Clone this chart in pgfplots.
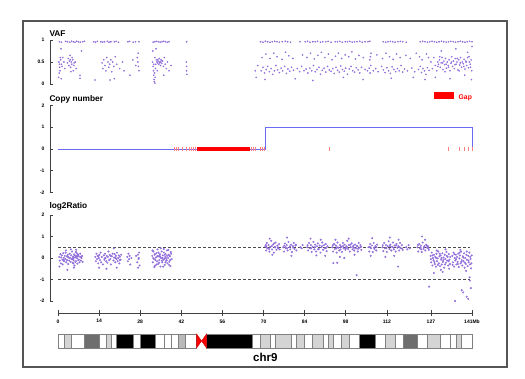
\documentclass[border=0pt]{standalone}
\usepackage{fontspec}
\setmainfont{Liberation Sans}
\usepackage{pgfplots}
\pgfplotsset{compat=1.18}
\usepackage{pgfplotstable}
\definecolor{pts}{RGB}{147,112,219}
\definecolor{cnline}{RGB}{105,105,250}
\definecolor{lg}{RGB}{212,212,212}
\definecolor{mg}{RGB}{185,185,185}
\definecolor{dg}{RGB}{110,110,110}
\definecolor{framec}{RGB}{85,85,85}

\pgfplotstableread[row sep=\\]{x y\\
0.5 .96\\ 1.2 .95\\ 2.6 .97\\ 3.2 .96\\ 4.0 .95\\ 4.6 .97\\ 5.2 .96\\ 5.8 .95\\ 6.4 .97\\ 7.0 .96\\ 7.6 .95\\ 8.4 .96\\ 9.0 .97\\
12.2 .96\\ 12.8 .95\\ 13.4 .97\\ 14.6 .96\\ 15.2 .95\\ 15.8 .96\\ 16.8 .97\\ 17.4 .95\\ 18.0 .96\\ 19.2 .96\\ 19.8 .97\\ 20.6 .95\\
23.8 .96\\ 24.4 .97\\ 25.6 .95\\ 26.4 .96\\ 27.6 .96\\ 32.4 .95\\ 33.0 .96\\ 33.6 .97\\ 34.2 .96\\ 34.8 .95\\ 35.4 .96\\ 36.0 .97\\ 36.6 .96\\ 37.2 .95\\ 37.8 .96\\ 43.8 .96\\
0.5 0.45\\ 0.7 0.3\\ 0.9 0.55\\ 1.1 0.12\\ 1.4 0.4\\ 1.6 0.6\\ 2.0 0.5\\ 2.3 0.35\\ 3.2 0.48\\ 3.5 0.58\\ 3.7 0.42\\ 3.9 0.52\\ 4.1 0.65\\ 4.3 0.38\\ 4.5 0.5\\ 4.7 0.45\\ 5.0 0.55\\ 5.2 0.3\\ 5.5 0.48\\ 7.5 0.2\\ 8.0 0.75\\ 1.0 0.8\\
4.2 0.55\\ 4.8 0.6\\ 5.4 0.42\\ 5.9 0.5\\ 6.2 0.35\\ 4.4 0.28\\ 0.3 0.5\\ 0.6 0.38\\ 0.8 0.6\\ 1.2 0.45\\ 0.4 0.25\\ 0.2 0.15\\ 7.5 0.13\\
12.6 0.09\\ 15.0 0.48\\ 15.3 0.35\\ 15.6 0.55\\ 16.0 0.42\\ 16.3 0.3\\ 16.6 0.6\\ 17.0 0.5\\ 17.3 0.38\\ 17.6 0.45\\ 18.0 0.55\\ 18.3 0.28\\ 18.6 0.5\\ 19.0 0.4\\ 19.5 0.62\\ 20.0 0.45\\ 21.0 0.35\\ 22.0 0.5\\ 22.5 0.3\\ 24.5 0.2\\ 25.5 0.55\\ 26.5 0.42\\ 27.0 0.6\\ 27.2 0.5\\ 27.4 0.4\\ 27.6 0.3\\ 27.3 0.7\\ 19.2 0.12\\ 17.7 0.09\\
32.2 0.5\\ 32.4 0.4\\ 32.5 0.3\\ 32.6 0.2\\ 32.7 0.1\\ 32.8 0.05\\ 32.9 0.25\\ 33.0 0.6\\ 33.1 0.15\\ 33.2 0.35\\ 33.3 0.45\\ 33.5 0.55\\ 33.7 0.5\\ 33.9 0.48\\ 34.1 0.52\\ 34.3 0.45\\ 34.5 0.58\\ 34.7 0.5\\ 34.9 0.42\\ 35.1 0.55\\ 35.3 0.47\\ 35.6 0.52\\ 35.9 0.4\\ 36.2 0.6\\ 36.5 0.45\\ 36.9 0.35\\ 37.3 0.5\\ 37.8 0.3\\ 38.5 0.42\\ 32.3 0.75\\ 33.4 0.8\\ 34.0 0.55\\ 34.6 0.48\\ 35.0 0.5\\ 35.4 0.53\\ 32.6 0.45\\ 33.0 0.02\\ 33.8 0.3\\ 36.0 0.2\\
43.7 0.5\\ 43.8 0.4\\ 43.8 0.3\\ 43.9 0.22\\ 67.2 0.3\\ 67.5 0.15\\ 68.0 0.42\\
69.0 .96\\ 69.8 .95\\ 70.6 .97\\ 71.4 .96\\ 72.2 .95\\ 73.0 .96\\ 73.8 .97\\ 74.6 .96\\ 75.4 .95\\ 76.4 .96\\ 77.4 .97\\ 78.2 .96\\ 79.2 .95\\ 82.4 .96\\ 84.2 .96\\ 85.0 .97\\ 85.8 .95\\ 86.8 .96\\ 87.6 .96\\ 88.4 .97\\ 89.4 .95\\ 90.2 .96\\ 91.2 .96\\ 92.0 .97\\ 93.0 .95\\
94.4 .96\\ 95.2 .96\\ 96.0 .97\\ 96.8 .95\\ 97.8 .96\\ 98.6 .96\\ 99.4 .97\\ 100.2 .95\\ 101.0 .96\\ 101.8 .96\\ 102.8 .97\\ 103.6 .95\\ 104.6 .96\\ 105.6 .96\\ 106.2 .97\\
110.8 .96\\ 111.6 .95\\ 112.4 .96\\ 113.2 .97\\ 114.0 .96\\ 114.8 .95\\ 115.8 .96\\ 116.6 .97\\ 117.4 .96\\ 118.6 .95\\
123.4 .96\\ 124.2 .97\\ 125.0 .96\\ 125.8 .95\\ 126.6 .96\\ 127.4 .97\\ 128.2 .96\\ 129.0 .95\\ 129.8 .96\\ 130.6 .97\\ 131.4 .96\\ 132.2 .95\\ 133.0 .96\\ 133.8 .97\\ 134.6 .96\\ 135.4 .95\\ 136.2 .96\\ 137.0 .97\\ 137.8 .96\\ 138.6 .95\\ 139.4 .96\\ 140.2 .97\\ 141.0 .96\\
69.2 0.3\\ 69.8 0.38\\ 70.3 0.25\\ 70.9 0.33\\ 71.4 0.4\\ 72.0 0.28\\ 72.6 0.35\\ 73.1 0.22\\ 73.7 0.3\\ 74.2 0.42\\ 74.8 0.32\\ 75.4 0.26\\ 76.0 0.36\\ 76.5 0.3\\ 77.2 0.4\\ 77.8 0.24\\ 78.3 0.34\\ 78.9 0.29\\ 79.5 0.38\\ 80.2 0.31\\ 81.5 0.35\\ 82.3 0.28\\ 83.0 0.4\\ 83.8 0.3\\ 84.5 0.34\\ 85.1 0.25\\ 85.8 0.36\\ 86.4 0.3\\ 87.0 0.42\\ 87.6 0.28\\ 88.2 0.33\\ 88.9 0.38\\ 89.4 0.22\\ 90.0 0.31\\ 90.6 0.36\\ 91.2 0.27\\ 91.8 0.4\\ 92.4 0.32\\ 93.0 0.29\\ 93.6 0.35\\ 94.1 0.24\\ 94.7 0.38\\ 95.2 0.31\\ 95.8 0.27\\ 96.3 0.41\\ 96.9 0.33\\ 97.5 0.29\\ 98.0 0.36\\ 98.6 0.22\\ 99.2 0.34\\ 99.8 0.4\\ 100.4 0.3\\ 101.0 0.27\\ 101.6 0.37\\ 102.2 0.32\\ 102.8 0.25\\ 103.4 0.38\\ 104.6 0.33\\ 105.4 0.3\\ 106.0 0.36\\ 106.3 0.25\\ 106.5 0.42\\ 107.4 0.3\\ 108.2 0.35\\ 109.0 0.28\\ 110.2 0.4\\ 110.8 0.32\\ 111.4 0.26\\ 112.0 0.37\\ 112.6 0.3\\ 113.2 0.24\\ 113.8 0.39\\ 114.4 0.33\\ 115.0 0.28\\ 115.6 0.35\\ 116.2 0.3\\ 116.8 0.42\\ 117.4 0.27\\ 118.0 0.34\\ 119.0 0.3\\ 120.5 0.36\\ 121.5 0.28\\ 122.8 0.33\\ 123.4 0.4\\ 123.8 0.26\\ 124.3 0.35\\ 124.8 0.3\\ 125.3 0.22\\ 125.8 0.37\\ 126.4 0.31\\
70.5 0.1\\ 80.8 0.12\\ 86.8 0.08\\ 97.2 0.15\\ 103.9 0.1\\ 113.5 0.13\\ 125.0 0.1\\ 121.0 0.15\\
69.5 0.6\\ 70.8 0.68\\ 72.2 0.58\\ 73.5 0.7\\ 74.6 0.62\\ 76.3 0.56\\ 77.5 0.72\\ 78.6 0.64\\ 80.0 0.58\\ 83.3 0.66\\ 84.8 0.6\\ 86.0 0.7\\ 87.3 0.57\\ 88.5 0.65\\ 89.7 0.72\\ 90.9 0.6\\ 92.1 0.68\\ 93.3 0.55\\ 94.5 0.63\\ 95.5 0.7\\ 96.6 0.58\\ 97.8 0.66\\ 99.0 0.62\\ 100.1 0.73\\ 101.3 0.57\\ 102.5 0.65\\ 104.0 0.6\\ 106.2 0.55\\ 106.4 0.62\\ 106.6 0.7\\ 108.6 0.66\\ 110.5 0.58\\ 111.7 0.7\\ 112.9 0.62\\ 114.1 0.56\\ 115.3 0.68\\ 116.5 0.6\\ 118.5 0.65\\ 120.0 0.58\\ 122.0 0.7\\ 123.1 0.62\\ 124.0 0.55\\ 125.5 0.68\\ 126.2 0.6\\
127.0 0.5\\ 127.5 0.35\\ 128.0 0.6\\ 128.5 0.42\\ 129.0 0.3\\ 129.3 0.5\\ 129.6 0.45\\ 129.9 0.55\\ 130.2 0.38\\ 130.5 0.48\\ 130.8 0.6\\ 131.1 0.33\\ 131.4 0.52\\ 131.7 0.44\\ 132.0 0.58\\ 132.3 0.36\\ 132.6 0.5\\ 132.9 0.42\\ 133.2 0.55\\ 133.5 0.3\\ 133.8 0.47\\ 134.1 0.62\\ 134.4 0.4\\ 134.7 0.52\\ 135.0 0.35\\ 135.3 0.58\\ 135.6 0.45\\ 135.9 0.5\\ 136.2 0.32\\ 136.5 0.55\\ 136.8 0.43\\ 137.1 0.6\\ 137.4 0.38\\ 137.7 0.5\\ 138.0 0.46\\ 138.3 0.56\\ 138.6 0.34\\ 138.9 0.52\\ 139.2 0.42\\ 139.5 0.6\\ 139.8 0.37\\ 140.1 0.5\\ 140.4 0.45\\ 140.7 0.55\\ 140.9 0.3\\
129.4 0.4\\ 130.0 0.62\\ 131.0 0.48\\ 132.2 0.45\\ 133.0 0.38\\ 134.0 0.5\\ 135.2 0.44\\ 136.0 0.58\\ 137.0 0.48\\ 138.2 0.4\\ 139.0 0.5\\ 140.0 0.62\\ 140.5 0.38\\ 131.8 0.28\\ 136.6 0.3\\ 130.5 0.75\\ 135.5 0.8\\ 139.5 0.72\\ 128.5 0.15\\ 133.5 0.12\\ 138.5 0.2\\ 141.0 0.85\\ 140.8 0.1\\
}\vafdata

\pgfplotstableread[row sep=\\]{x y\\
0.4 0.05\\ 0.6 -0.12\\ 0.8 0.18\\ 1.0 -0.25\\ 1.1 0.02\\ 1.3 0.12\\ 1.5 -0.08\\ 1.6 -0.3\\ 1.8 0.22\\ 2.0 0.0\\ 2.1 -0.15\\ 2.3 0.1\\ 2.5 -0.05\\ 2.6 0.25\\ 2.8 -0.2\\ 3.0 0.08\\ 3.1 -0.1\\ 3.3 0.15\\ 3.5 -0.28\\ 3.6 0.03\\ 3.8 -0.12\\ 4.0 0.2\\ 4.1 0.0\\ 4.3 -0.18\\ 4.5 0.12\\ 4.6 -0.05\\ 4.8 0.3\\ 5.0 -0.22\\ 5.1 0.06\\ 5.3 -0.1\\ 5.5 0.17\\ 5.6 -0.35\\ 5.8 0.02\\ 6.0 0.1\\ 6.1 -0.15\\ 6.3 0.24\\ 6.5 -0.02\\ 6.6 -0.26\\ 6.8 0.08\\ 7.0 0.14\\ 7.1 -0.08\\ 7.3 -0.2\\ 7.5 0.05\\ 7.6 0.2\\ 7.8 -0.12\\ 8.0 0.0\\ 8.2 0.1\\ 8.4 -0.18\\ 0.5 -0.4\\ 3.2 -0.55\\ 5.4 -0.45\\ 4.4 0.4\\ 6.2 0.38\\ 2.7 0.35\\ 5.2 0.0\\ 5.7 0.12\\ 5.9 -0.18\\ 6.4 0.05\\ 6.7 0.18\\ 6.9 -0.1\\ 5.25 -0.25\\ 6.05 0.28\\
1.9 -0.1\\ 3.4 0.05\\ 4.9 -0.05\\ 6.5 0.1\\ 7.9 0.05\\
12.7 0.05\\ 12.9 -0.15\\ 13.1 0.2\\ 13.3 -0.05\\ 13.5 0.1\\ 13.7 -0.25\\ 13.9 0.0\\ 14.1 0.15\\ 14.3 -0.1\\ 14.5 0.25\\ 14.7 -0.2\\ 14.9 0.05\\ 15.3 -0.3\\ 15.6 0.12\\ 15.8 -0.08\\ 16.0 0.2\\ 16.2 0.0\\ 16.4 -0.15\\ 16.6 0.1\\ 16.8 -0.22\\ 17.0 0.05\\ 17.2 0.3\\ 17.4 -0.1\\ 17.6 0.15\\ 17.8 -0.05\\ 18.0 -0.3\\ 18.3 0.08\\ 18.6 0.2\\ 18.9 -0.12\\ 19.1 0.02\\ 19.3 0.18\\ 19.5 -0.2\\ 19.7 0.1\\ 19.9 -0.05\\ 20.1 0.25\\ 20.3 -0.15\\ 20.5 0.0\\ 20.7 0.12\\ 20.9 -0.25\\ 21.1 0.06\\ 21.3 -0.08\\ 21.5 0.15\\ 16.5 -0.5\\ 19.0 0.45\\ 14.0 -0.45\\ 20.0 -0.45\\
13.8 0.1\\ 15.9 -0.02\\ 17.9 0.1\\ 19.6 0.0\\ 21.0 -0.1\\
23.6 0.05\\ 23.8 -0.15\\ 24.0 0.2\\ 24.2 -0.05\\ 24.4 0.1\\ 24.6 -0.3\\ 25.0 0.0\\ 26.6 0.1\\ 27.0 -0.2\\ 27.2 0.15\\ 27.4 -0.05\\ 27.6 0.25\\ 27.8 -0.35\\ 27.3 -0.45\\ 27.5 0.0\\
32.1 0.1\\ 32.3 -0.2\\ 32.5 0.3\\ 32.7 -0.05\\ 32.9 0.15\\ 33.1 -0.35\\ 33.3 0.02\\ 33.5 0.22\\ 33.7 -0.15\\ 33.9 0.4\\ 34.1 -0.28\\ 34.3 0.08\\ 34.5 -0.1\\ 34.7 0.18\\ 34.9 -0.4\\ 35.1 0.0\\ 35.3 0.3\\ 35.5 -0.2\\ 35.7 0.12\\ 35.9 -0.08\\ 36.1 0.25\\ 36.3 -0.32\\ 36.5 0.05\\ 36.7 0.18\\ 36.9 -0.12\\ 37.1 0.35\\ 37.3 -0.25\\ 37.5 0.0\\ 37.7 0.15\\ 37.9 -0.18\\ 38.1 0.08\\ 38.3 -0.38\\ 38.5 0.2\\ 38.7 -0.05\\ 32.4 0.0\\ 33.0 0.18\\ 33.6 -0.3\\ 34.2 0.25\\ 34.8 0.05\\ 35.4 -0.12\\ 36.0 0.42\\ 36.6 -0.2\\ 37.2 0.1\\ 37.8 -0.32\\ 38.4 0.28\\ 32.8 -0.42\\ 35.0 0.45\\ 36.4 0.15\\ 37.6 0.38\\ 33.8 0.08\\ 35.8 -0.4\\ 34.4 -0.22\\ 32.2 0.35\\ 38.2 -0.1\\ 36.8 0.0\\
33.2 -0.1\\ 34.6 0.1\\ 35.6 0.0\\ 36.2 -0.05\\ 37.0 -0.1\\ 38.0 0.1\\
70.6 0.55\\ 70.9 0.35\\ 71.1 0.7\\ 71.4 0.45\\ 71.7 0.6\\ 72.0 0.3\\ 72.3 0.52\\ 72.6 0.8\\ 72.9 0.4\\ 73.2 0.62\\ 73.5 0.25\\ 73.8 0.5\\ 74.1 0.72\\ 74.4 0.38\\ 74.7 0.58\\ 75.0 0.45\\ 75.3 0.65\\ 72.1 0.9\\ 73.0 0.15\\ 71.0 0.5\\ 74.0 0.5\\
70.8 0.6\\ 71.9 0.42\\ 72.8 0.55\\ 73.6 0.68\\ 74.9 0.5\\ 75.5 0.4\\
76.7 0.5\\ 77.0 0.3\\ 77.3 0.68\\ 77.6 0.45\\ 77.9 0.6\\ 78.2 0.35\\ 78.5 0.75\\ 78.8 0.5\\ 79.1 0.4\\ 79.4 0.62\\ 79.7 0.28\\ 80.0 0.55\\ 80.3 0.7\\ 80.6 0.42\\ 80.9 0.58\\ 81.2 0.35\\ 78.0 0.95\\ 79.5 0.1\\ 77.5 0.5\\ 82.6 0.5\\ 83.0 0.45\\ 83.3 0.6\\
77.1 0.58\\ 78.0 0.45\\ 79.0 0.55\\ 80.1 0.48\\ 81.0 0.62\\
84.9 0.5\\ 85.2 0.35\\ 85.5 0.7\\ 85.8 0.45\\ 86.1 0.6\\ 86.4 0.28\\ 86.7 0.52\\ 87.0 0.75\\ 87.3 0.4\\ 87.6 0.62\\ 87.9 0.3\\ 88.2 0.55\\ 88.5 0.68\\ 88.8 0.42\\ 89.1 0.58\\ 89.4 0.25\\ 89.7 0.5\\ 90.0 0.72\\ 90.3 0.38\\ 90.6 0.6\\ 90.9 0.45\\ 91.2 0.65\\ 91.5 0.32\\ 91.8 0.55\\ 86.0 0.9\\ 88.0 0.12\\ 89.5 0.85\\ 91.0 0.1\\
85.0 0.6\\ 86.2 0.45\\ 87.5 0.5\\ 88.6 0.4\\ 89.9 0.55\\ 91.4 0.48\\
93.4 0.5\\ 93.7 0.3\\ 94.0 0.65\\ 94.3 0.42\\ 94.6 0.58\\ 94.9 0.25\\ 95.2 0.72\\ 95.5 0.48\\ 95.8 0.35\\ 96.1 0.6\\ 96.4 0.52\\ 96.7 0.28\\ 97.0 0.7\\ 97.3 0.45\\ 97.6 0.62\\ 97.9 0.38\\ 98.2 0.55\\ 98.5 0.8\\ 98.8 0.42\\ 99.1 0.6\\ 99.4 0.3\\ 99.7 0.5\\ 100.0 0.68\\ 100.3 0.4\\ 100.6 0.58\\ 100.9 0.35\\ 101.2 0.62\\ 101.5 0.45\\ 101.8 0.55\\ 102.1 0.3\\ 102.4 0.7\\ 102.7 0.48\\ 103.0 0.6\\ 103.3 0.38\\ 94.5 0.85\\ 96.0 0.05\\ 97.5 0.0\\ 99.0 0.9\\ 101.0 0.15\\ 93.8 -0.24\\ 96.6 0.52\\ 98.0 0.45\\ 100.5 0.52\\ 102.0 0.55\\ 95.0 0.5\\ 101.7 -0.8\\ 95.1 -0.22\\
93.6 0.6\\ 94.8 0.45\\ 96.2 0.4\\ 97.1 0.56\\ 98.4 0.5\\ 99.6 0.62\\ 100.8 0.47\\ 102.2 0.42\\ 103.2 0.52\\
105.7 0.5\\ 106.0 0.3\\ 106.3 0.65\\ 106.6 0.45\\ 106.9 0.58\\ 107.2 0.28\\ 107.5 0.7\\ 107.8 0.42\\ 108.1 0.55\\ 108.4 0.35\\ 108.7 0.62\\ 107.0 0.92\\ 106.5 0.1\\ 106.1 0.52\\ 107.6 0.48\\ 108.5 0.5\\
110.5 0.5\\ 110.8 0.32\\ 111.1 0.7\\ 111.4 0.45\\ 111.7 0.6\\ 112.0 0.28\\ 112.3 0.55\\ 112.6 0.78\\ 112.9 0.42\\ 113.2 0.62\\ 113.5 0.35\\ 113.8 0.52\\ 114.1 0.72\\ 114.4 0.4\\ 114.7 0.58\\ 115.0 0.3\\ 115.3 0.65\\ 115.6 0.48\\ 115.9 0.55\\ 116.2 0.35\\ 116.5 0.7\\ 116.8 0.45\\ 117.1 0.6\\ 117.4 0.38\\ 113.0 0.95\\ 114.5 0.1\\ 115.8 -0.4\\ 111.5 0.05\\ 116.0 0.85\\ 118.6 0.5\\ 119.0 0.4\\ 119.4 0.6\\ 119.8 0.45\\
110.6 0.6\\ 111.9 0.46\\ 113.0 0.55\\ 114.2 0.48\\ 115.1 0.58\\ 116.4 0.5\\ 117.2 0.44\\
122.4 0.5\\ 122.7 0.3\\ 123.0 0.65\\ 123.3 0.45\\ 123.6 0.58\\ 123.9 0.28\\ 124.2 0.72\\ 124.5 0.42\\ 124.8 0.55\\ 125.1 0.35\\ 125.4 0.62\\ 125.7 0.48\\ 126.0 0.55\\ 126.3 0.38\\ 124.0 1.0\\ 125.0 0.85\\ 123.5 0.5\\ 126.4 -1.33\\
122.6 0.6\\ 123.7 0.4\\ 124.6 0.5\\ 125.6 0.58\\ 126.1 0.45\\
126.9 0.1\\ 127.1 -0.2\\ 127.3 0.25\\ 127.5 -0.35\\ 127.7 0.0\\ 127.9 -0.1\\ 128.1 0.15\\ 128.3 -0.28\\ 128.5 0.05\\ 128.7 -0.4\\ 128.9 0.2\\ 129.1 -0.15\\ 129.3 -0.02\\ 129.5 0.3\\ 129.7 -0.25\\ 129.9 0.08\\ 130.1 -0.38\\ 130.3 0.12\\ 130.5 -0.08\\ 130.7 -0.3\\ 130.9 0.22\\ 131.1 -0.18\\ 131.3 0.02\\ 131.5 -0.45\\ 131.7 0.15\\ 131.9 -0.05\\ 132.1 -0.22\\ 132.3 0.28\\ 132.5 -0.12\\ 132.7 0.05\\ 132.9 -0.35\\ 133.1 0.18\\ 133.3 -0.08\\ 133.5 -0.28\\ 134.3 0.1\\ 134.5 -0.2\\ 134.7 0.25\\ 134.9 -0.4\\ 135.1 0.0\\ 135.3 -0.12\\ 135.5 0.15\\ 135.7 -0.3\\ 135.9 0.05\\ 136.1 -0.18\\ 136.3 0.2\\ 136.5 -0.42\\ 136.7 -0.02\\ 136.9 0.12\\ 137.1 -0.25\\ 137.3 0.3\\ 137.5 -0.1\\ 137.7 -0.35\\ 137.9 0.08\\ 138.1 -0.15\\ 138.3 0.22\\ 138.5 -0.45\\ 138.7 0.0\\ 138.9 -0.28\\ 139.1 0.15\\ 139.3 -0.08\\ 139.5 -0.38\\ 139.7 0.1\\ 139.9 -0.2\\ 140.1 0.25\\ 140.3 -0.3\\ 140.5 -0.05\\ 140.7 -0.48\\ 140.9 0.12\\
127.0 -0.05\\ 127.6 0.12\\ 128.2 -0.18\\ 128.8 0.0\\ 129.4 -0.32\\ 130.0 0.2\\ 130.6 0.0\\ 131.2 -0.1\\ 131.8 -0.3\\ 132.4 0.1\\ 133.0 -0.15\\ 133.6 0.05\\ 134.4 -0.32\\ 135.0 0.18\\ 135.6 -0.05\\ 136.2 -0.28\\ 136.8 0.25\\ 137.4 -0.18\\ 138.0 0.02\\ 138.6 -0.22\\ 139.2 0.3\\ 139.8 -0.12\\ 140.4 0.05\\ 140.8 -0.25\\ 129.0 0.35\\ 132.0 0.4\\ 137.0 0.38\\ 130.4 -0.55\\ 133.2 -0.5\\ 139.0 -0.6\\
135.2 -2.0\\ 137.5 -1.5\\ 138.0 -1.6\\ 139.2 -1.8\\ 140.3 -1.05\\ 140.6 -1.4\\ 128.0 -0.7\\ 131.0 -0.65\\ 140.2 -0.9\\ 139.7 -1.9\\
}\logdata

\newcommand{\band}[3]{\addplot[fill=#3, draw=black!50, line width=0.5pt] coordinates {(#1,0) (#2,0) (#2,1) (#1,1)} -- cycle;}

\pgfplotsset{panel/.style={scale only axis, width=422pt, xmin=-2.725, xmax=141,
  axis x line=none, axis y line=left, y axis line style={-, draw=black!75, line width=0.6pt},
  tick align=inside, major tick length=2.5pt, ytick style={draw=black!75, line width=0.6pt},
  yticklabel style={font=\fontsize{5}{5}\selectfont\bfseries, xshift=-2pt},
  clip=false, anchor=south west}}

\begin{document}
\begin{tikzpicture}
\path (0,0) rectangle (525pt,379pt);
\draw[framec, line width=1.2pt] (23pt,358pt) rectangle (507pt,12pt);

% VAF
\begin{axis}[panel, height=44pt, ymin=0, ymax=1, ytick={0,0.5,1}, yticklabels={0,0.5,1}, at={(50pt,295pt)}]
\addplot[only marks, mark=*, mark size=0.62pt, color=pts] table[x=x,y=y]{\vafdata};
\end{axis}

% Copy number
\begin{axis}[panel, height=87pt, ymin=-2, ymax=2, ytick={-2,-1,0,1,2}, yticklabels={-2,-1,0,1,2}, at={(50pt,186.5pt)}]
\addplot[cnline, line width=0.8pt] coordinates {(0,0) (70.8,0) (70.8,1) (141,1) (141,0)};
\addplot[fill=red, draw=none] coordinates {(47.3,-0.11) (65.4,-0.11) (65.4,0.11) (47.3,0.11)} -- cycle;
\addplot[only marks, mark=|, mark size=2.4pt, mark options={line width=0.45pt}, color=red!50] coordinates {(39.7,0) (40.3,0) (41.0,0) (42.3,0) (43.6,0) (44.6,0) (45.3,0) (46.0,0) (46.6,0) (65.8,0) (66.4,0) (67.0,0) (68.9,0) (69.5,0) (70.1,0) (92.3,0) (132.8,0) (136.6,0) (138.3,0) (139.6,0) (141.0,0)};
\end{axis}

% log2Ratio
\begin{axis}[panel, height=86pt, ymin=-2, ymax=2, ytick={-2,-1,0,1,2}, yticklabels={-2,-1,0,1,2}, at={(50pt,78pt)}]
\addplot[only marks, mark=*, mark size=0.8pt, color=pts] table[x=x,y=y]{\logdata};
\addplot[black!70, line width=0.7pt, dash pattern=on 3pt off 2pt] coordinates {(0,0.5) (140.3,0.5)};
\addplot[black!70, line width=0.7pt, dash pattern=on 3pt off 2pt] coordinates {(0,-1) (140.3,-1)};
\end{axis}

% position axis
\begin{axis}[scale only axis, width=414pt, height=10pt, xmin=0, xmax=141, ymin=0, ymax=1,
  axis x line=bottom, axis y line=none, x axis line style={-, draw=black!75, line width=0.6pt},
  xtick={0,14,28,42,56,70,84,98,112,127,141}, xticklabels={0,14,28,42,56,70,84,98,112,127,141Mb},
  tick align=center, major tick length=6pt, xtick style={draw=black!75, line width=0.6pt},
  xticklabel style={font=\fontsize{5}{5}\selectfont\bfseries},
  at={(58pt,66pt)}, anchor=south west]
\addplot[draw=none] coordinates {(0,0.5) (141,0.5)};
\end{axis}

% ideogram
\begin{axis}[scale only axis, width=414pt, height=14pt, xmin=0, xmax=141, ymin=0, ymax=1, hide axis, clip=false, at={(58pt,31pt)}, anchor=south west]
\band{0}{2.0}{white}
\band{2.0}{4.4}{lg}
\band{4.4}{8.9}{white}
\band{8.9}{14.1}{dg}
\band{14.1}{16.3}{white}
\band{16.3}{18.1}{lg}
\band{18.1}{19.8}{white}
\band{19.8}{25.6}{black}
\band{25.6}{27.9}{white}
\band{27.9}{33.0}{black}
\band{33.0}{36.1}{white}
\band{36.1}{38.4}{white}
\band{38.4}{41.0}{white}
\band{41.0}{43.5}{mg}
\band{43.5}{47.2}{white}
\band{50.6}{66.0}{black}
\band{66.0}{68.8}{white}
\band{68.8}{72.2}{lg}
\band{72.2}{73.9}{white}
\band{73.9}{79.3}{lg}
\band{79.3}{81.0}{white}
\band{81.0}{83.9}{lg}
\band{83.9}{86.6}{white}
\band{86.6}{90.4}{lg}
\band{90.4}{91.9}{white}
\band{91.9}{93.8}{lg}
\band{93.8}{96.4}{white}
\band{96.4}{99.2}{lg}
\band{99.2}{102.5}{white}
\band{102.5}{108.2}{black}
\band{108.2}{111.4}{white}
\band{111.4}{114.8}{lg}
\band{114.8}{117.6}{white}
\band{117.6}{122.4}{dg}
\band{122.4}{125.8}{white}
\band{125.8}{130.3}{lg}
\band{130.3}{133.5}{white}
\band{133.5}{135.8}{white}
\band{135.8}{137.5}{lg}
\band{137.5}{141}{white}
\addplot[fill=red, draw=red!80!black, line width=0.4pt] coordinates {(47.2,0) (48.9,0.5) (47.2,1)} -- cycle;
\addplot[fill=red, draw=red!80!black, line width=0.4pt] coordinates {(50.6,0) (48.9,0.5) (50.6,1)} -- cycle;
\end{axis}

% titles and legend
\node[anchor=base west, inner sep=0, font=\fontsize{8.3}{9}\selectfont\bfseries] at (49.3pt,342.3pt) {VAF};
\node[anchor=base west, inner sep=0, font=\fontsize{8.3}{9}\selectfont\bfseries] at (49.3pt,277.5pt) {Copy number};
\node[anchor=base west, inner sep=0, font=\fontsize{8.3}{9}\selectfont\bfseries] at (49.3pt,170.7pt) {log2Ratio};
\fill[red] (434pt,279.7pt) rectangle (454pt,287.3pt);
\node[anchor=base west, inner sep=0, font=\fontsize{6.8}{7}\selectfont\bfseries, text=red] at (458.5pt,279pt) {Gap};
\node[anchor=base, inner sep=0, font=\fontsize{11.5}{12}\selectfont\bfseries] at (265.3pt,17.3pt) {chr9};
\end{tikzpicture}
\end{document}
